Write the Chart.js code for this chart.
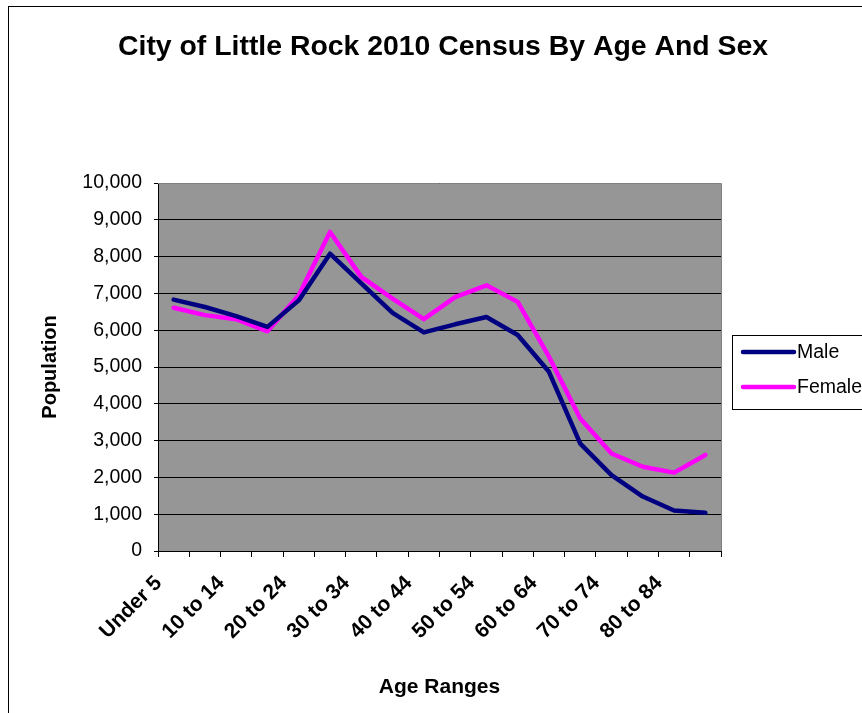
<!DOCTYPE html>
<html>
<head>
<meta charset="utf-8">
<title>City of Little Rock 2010 Census By Age And Sex</title>
<script src="https://cdn.jsdelivr.net/npm/chart.js@4.4.1/dist/chart.umd.min.js"></script>
<style>
  html, body { margin: 0; padding: 0; background: #fff; }
  #wrap { width: 862px; height: 713px; position: relative; }
</style>
</head>
<body>
<div id="wrap"><canvas id="chart" width="862" height="713"></canvas></div>
<script>
// Age groups from the 2010 census
const ageRanges = [
  'Under 5', '5 to 9', '10 to 14', '15 to 19', '20 to 24', '25 to 29',
  '30 to 34', '35 to 39', '40 to 44', '45 to 49', '50 to 54', '55 to 59',
  '60 to 64', '65 to 69', '70 to 74', '75 to 79', '80 to 84', '85 and over'
];

// Population by age group
const malePop = [6830, 6630, 6380, 6090, 6810, 8080, 7270, 6470, 5940, 6160, 6360, 5870, 4870, 2920, 2060, 1480, 1100, 1040];
const femalePop = [6610, 6410, 6300, 5970, 6950, 8670, 7450, 6860, 6300, 6900, 7220, 6770, 5280, 3600, 2650, 2290, 2130, 2610];

// Value axis
const popMin = 0;
const popMax = 10000;
const popStep = 1000;

const chartTitle = 'City of Little Rock 2010 Census By Age And Sex';

const FONT = "'Liberation Sans', Arial, Helvetica, sans-serif";

// Grey plot background, outer frame and centred heading
const backdrop = {
  id: 'backdrop',
  beforeDraw(chart) {
    const { ctx, chartArea: a } = chart;
    ctx.save();
    ctx.fillStyle = '#fff';
    ctx.fillRect(0, 0, chart.width, chart.height);
    ctx.strokeStyle = '#000';
    ctx.lineWidth = 1;
    ctx.strokeRect(8.5, 6.5, chart.width + 20, chart.height + 20);
    ctx.fillStyle = '#969696';
    ctx.fillRect(a.left, a.top, a.right - a.left, a.bottom - a.top);

    ctx.fillStyle = '#000';
    ctx.font = 'bold 28.4px ' + FONT;
    ctx.textAlign = 'center';
    ctx.textBaseline = 'middle';
    ctx.fillText(chartTitle, 443, 47);
    ctx.restore();
  },
  afterDatasetsDraw(chart) {
    const { ctx, chartArea: a } = chart;
    ctx.save();
    ctx.strokeStyle = '#808080';
    ctx.lineWidth = 1;
    ctx.beginPath();
    ctx.moveTo(a.left, a.top + 0.5);
    ctx.lineTo(a.right + 0.5, a.top + 0.5);
    ctx.lineTo(a.right + 0.5, a.bottom);
    ctx.stroke();
    ctx.restore();
  }
};

// Boxed legend beside the plot
const sideLegend = {
  id: 'sideLegend',
  afterDraw(chart) {
    const { ctx } = chart;
    const x = 732.5, y = 335.5, w = 200, h = 74;
    ctx.save();
    ctx.fillStyle = '#fff';
    ctx.fillRect(x, y, w, h);
    ctx.strokeStyle = '#000';
    ctx.lineWidth = 1;
    ctx.strokeRect(x, y, w, h);
    chart.data.datasets.forEach((ds, i) => {
      const ly = 352 + i * 35;
      ctx.strokeStyle = ds.borderColor;
      ctx.lineWidth = 4.5;
      ctx.lineCap = 'round';
      ctx.beginPath();
      ctx.moveTo(743, ly);
      ctx.lineTo(794, ly);
      ctx.stroke();
      ctx.fillStyle = '#000';
      ctx.font = '19.5px ' + FONT;
      ctx.textBaseline = 'middle';
      ctx.textAlign = 'left';
      ctx.fillText(ds.label, 797, ly + 1);
    });
    ctx.restore();
  }
};

new Chart(document.getElementById('chart'), {
  type: 'line',
  data: {
    labels: ageRanges,
    datasets: [
      {
        label: 'Male',
        data: malePop,
        borderColor: '#000080',
        borderWidth: 4.5,
        pointRadius: 0,
        tension: 0,
        borderCapStyle: 'round',
        borderJoinStyle: 'round',
        fill: false
      },
      {
        label: 'Female',
        data: femalePop,
        borderColor: '#FF00FF',
        borderWidth: 4.5,
        pointRadius: 0,
        tension: 0,
        borderCapStyle: 'round',
        borderJoinStyle: 'round',
        fill: false
      }
    ]
  },
  options: {
    responsive: false,
    animation: false,
    layout: { padding: { left: 0, right: 141, top: 183, bottom: 0 } },
    plugins: {
      legend: { display: false },
      tooltip: { enabled: false },
      title: { display: false }
    },
    scales: {
      x: {
        type: 'category',
        offset: true,
        grid: {
          offset: true,
          drawOnChartArea: false,
          drawTicks: true,
          tickLength: 6,
          color: '#000'
        },
        border: { color: '#000', width: 1 },
        ticks: {
          autoSkip: false,
          minRotation: 45,
          maxRotation: 45,
          padding: 14,
          labelOffset: -15,
          color: '#000',
          font: { family: FONT, size: 21, weight: 'bold' },
          callback: (v, i) => (i % 2 === 0 ? ageRanges[i] : '')
        },
        title: {
          display: true,
          text: 'Age Ranges',
          color: '#000',
          font: { family: FONT, size: 21, weight: 'bold', lineHeight: 1.2 },
          padding: { top: 0, bottom: 13 }
        },
        afterFit(scale) { scale.height = 162; }
      },
      y: {
        min: popMin,
        max: popMax,
        grid: {
          color: '#000',
          lineWidth: 1,
          tickLength: 4
        },
        border: { color: '#000', width: 1 },
        ticks: {
          stepSize: popStep,
          padding: 12,
          color: '#000',
          font: { family: FONT, size: 19.5 },
          callback: v => v.toLocaleString('en-US')
        },
        title: {
          display: true,
          text: 'Population',
          color: '#000',
          font: { family: FONT, size: 20, weight: 'bold', lineHeight: 1.2 },
          padding: { top: 38, bottom: 0 }
        },
        afterFit(scale) { scale.width = 158; }
      }
    }
  },
  plugins: [backdrop, sideLegend]
});
</script>
</body>
</html>
